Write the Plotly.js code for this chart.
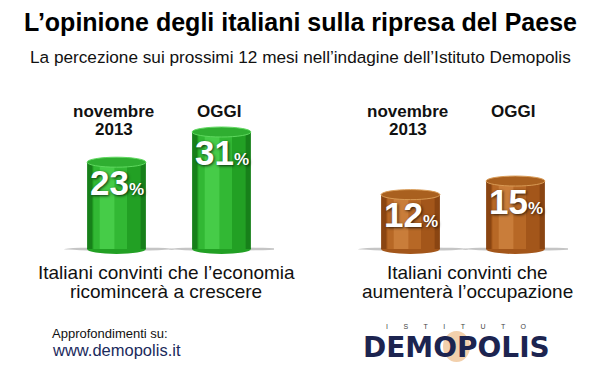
<!DOCTYPE html>
<html>
<head>
<meta charset="utf-8">
<script src="https://cdn.plot.ly/plotly-3.0.1.min.js"></script>
<style>html,body{margin:0;padding:0;background:#fff;}#chart{width:600px;height:373px;}</style>
</head>
<body>
<div id="chart"></div>
<script>
// ---- data ----
const periods = ['novembre<br>2013', 'OGGI'];
const economia = [23, 31];
const occupazione = [12, 15];
const captionEconomia = 'Italiani convinti che l\u2019economia<br>ricomincerà a crescere';
const captionOccupazione = 'Italiani convinti che<br>aumenterà l\u2019occupazione';
const titleText = 'L\u2019opinione degli italiani sulla ripresa del Paese';
const subtitleText = 'La percezione sui prossimi 12 mesi nell\u2019indagine dell\u2019Istituto Demopolis';

// ---- layout geometry ----
const W = 600, H = 373;
const zeroPx = 249, topPx = 100, botPx = 258;
const pxGreen = 3.774, pxOrange = 4.53;
const pyr = p => 1 - p / H;
function yRange(ppu) { return [-(botPx - zeroPx) / ppu, (zeroPx - topPx) / ppu]; }
const SANS = 'Liberation Sans, Arial, sans-serif';

const groups = [
  {vals: economia, xa: 'x', ya: 'y', ppu: pxGreen, dom: [64 / W, 274 / W],
   cols: ['#17801a', '#22a024', '#32b834', '#46cc48'], top: '#2fae31', rim: '#5fd85f', caption: captionEconomia, capX: 166},
  {vals: occupazione, xa: 'x2', ya: 'y2', ppu: pxOrange, dom: [358 / W, 568 / W],
   cols: ['#8a4512', '#a3561a', '#b76826', '#c97d3a'], top: '#a9601f', rim: '#d89a55', caption: captionOccupazione, capX: 467}
];

const barW = 0.56;
const layerW = [0.56, 0.46, 0.32, 0.14];
const traces = [];
const shapes = [];
const annotations = [];
const xIdx = periods.map((_, i) => i);

groups.forEach(g => {
  layerW.forEach((w, li) => {
    traces.push({
      type: 'bar', x: xIdx, y: g.vals, xaxis: g.xa, yaxis: g.ya,
      width: g.vals.map(() => w), offset: g.vals.map(() => -w / 2 - (li >= 2 ? 0.03 * li : 0)),
      marker: {color: g.cols[li], line: {width: 0}}, hoverinfo: 'skip', showlegend: false
    });
  });
  const eh = 5 / g.ppu;   // ellipse half-height (5px) in data units
  g.vals.forEach((v, i) => {
    shapes.push({type: 'circle', xref: g.xa, yref: g.ya, layer: 'below',
      x0: i - 0.5, x1: i + 0.55, y0: -1.6 / g.ppu, y1: 1.6 / g.ppu,
      fillcolor: 'rgba(90,90,90,0.35)', line: {width: 0}});
    shapes.push({type: 'circle', xref: g.xa, yref: g.ya, layer: 'below',
      x0: i - barW / 2, x1: i + barW / 2, y0: -eh, y1: eh,
      fillcolor: g.cols[1], line: {width: 0}});
    shapes.push({type: 'circle', xref: g.xa, yref: g.ya, layer: 'above',
      x0: i - barW / 2, x1: i + barW / 2, y0: v - eh, y1: v + eh,
      fillcolor: g.top, line: {color: g.rim, width: 1}});
    annotations.push({xref: g.xa, yref: g.ya, x: i, y: v, yshift: -20, showarrow: false,
      text: '<b>' + v + '</b><span style="font-size:17px"><b>%</b></span>',
      xanchor: 'center', yanchor: 'middle',
      font: {family: SANS, size: 35, color: '#ffffff', shadow: '1px 1px 3px rgba(0,0,0,0.75)'}});
    periods[i].split('<br>').forEach((line, k) => {
      annotations.push({xref: g.xa, yref: 'paper', x: i, y: pyr(112 + 17 * k), xshift: -3, showarrow: false,
        text: '<b>' + line + '</b>', xanchor: 'center', yanchor: 'middle',
        font: {family: SANS, size: 17, color: '#111'}});
    });
  });
  g.caption.split('<br>').forEach((line, k) => {
    annotations.push({xref: 'paper', yref: 'paper', x: g.capX / W, y: pyr(272 + 19 * k), showarrow: false,
      text: line, xanchor: 'center', yanchor: 'middle',
      font: {family: SANS, size: 19, color: '#111'}});
  });
});

// titles & footer
annotations.push({xref: 'paper', yref: 'paper', x: 0.5, y: pyr(22), showarrow: false, text: '<b>' + titleText + '</b>',
  xanchor: 'center', yanchor: 'middle',
  font: {family: SANS, size: 25, color: '#000'}});
annotations.push({xref: 'paper', yref: 'paper', x: 0.5, y: pyr(57), showarrow: false, text: subtitleText,
  xanchor: 'center', yanchor: 'middle',
  font: {family: SANS, size: 17.2, color: '#111'}});
annotations.push({xref: 'paper', yref: 'paper', x: 50 / W, y: pyr(333), showarrow: false, text: 'Approfondimenti su:',
  xanchor: 'left', yanchor: 'middle',
  font: {family: SANS, size: 13, color: '#111'}});
annotations.push({xref: 'paper', yref: 'paper', x: 50 / W, y: pyr(350), showarrow: false, text: 'www.demopolis.it',
  xanchor: 'left', yanchor: 'middle',
  font: {family: SANS, size: 16.5, color: '#1b2a5c'}});
// logo
shapes.push({type: 'circle', xref: 'paper', yref: 'paper', layer: 'below',
  x0: 443 / W, x1: 470 / W, y0: pyr(362), y1: pyr(331),
  fillcolor: 'rgba(226,150,70,0.45)', line: {width: 0}});
annotations.push({xref: 'paper', yref: 'paper', x: 456 / W, y: pyr(326), showarrow: false,
  text: 'I        S        T        I        T        U        T        O',
  xanchor: 'center', yanchor: 'middle',
  font: {family: SANS, size: 7, color: '#444'}});
annotations.push({xref: 'paper', yref: 'paper', x: 456 / W, y: pyr(347), showarrow: false,
  text: '<b>DEMOPOLIS</b>', xanchor: 'center', yanchor: 'middle',
  font: {family: 'DejaVu Sans, sans-serif', size: 28, color: '#1c2450'}});

const hidden = {visible: false, fixedrange: true};
const layout = {
  width: W, height: H, margin: {l: 0, r: 0, t: 0, b: 0},
  paper_bgcolor: '#fff', plot_bgcolor: 'rgba(0,0,0,0)',
  barmode: 'overlay', showlegend: false,
  xaxis: Object.assign({domain: groups[0].dom, range: [-0.5, 1.5], anchor: 'y'}, hidden),
  yaxis: Object.assign({domain: [pyr(botPx), pyr(topPx)], range: yRange(pxGreen), anchor: 'x'}, hidden),
  xaxis2: Object.assign({domain: groups[1].dom, range: [-0.5, 1.5], anchor: 'y2'}, hidden),
  yaxis2: Object.assign({domain: [pyr(botPx), pyr(topPx)], range: yRange(pxOrange), anchor: 'x2'}, hidden),
  shapes: shapes, annotations: annotations
};
Plotly.newPlot('chart', traces, layout, {staticPlot: true, displayModeBar: false});
</script>
</body>
</html>
